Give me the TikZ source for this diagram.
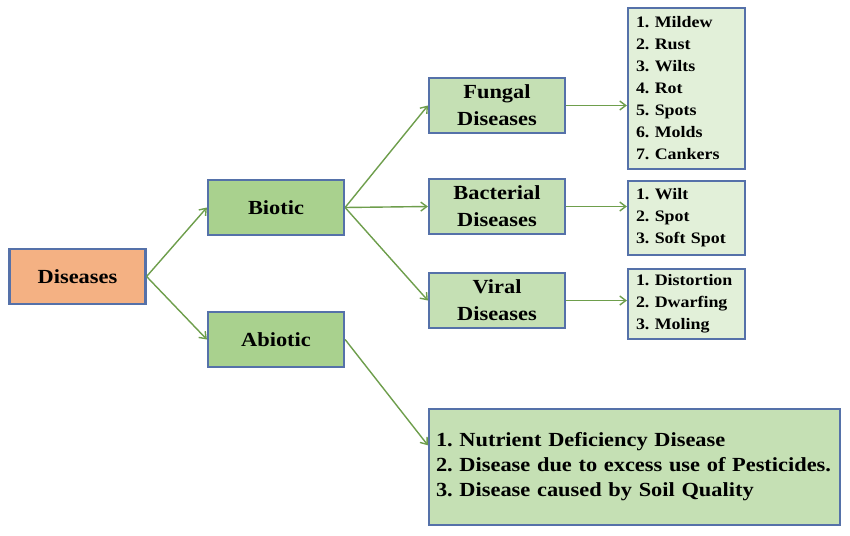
\documentclass[tikz,border=0pt]{standalone}
\usepackage{fontspec}
\setmainfont{Liberation Serif}[FakeStretch=1.12]
\usetikzlibrary{arrows.meta,shapes}
\definecolor{boxline}{HTML}{5571A9}
\definecolor{arrowgreen}{HTML}{6E9E4C}
\definecolor{orangefill}{HTML}{F4B183}
\definecolor{greenfill}{HTML}{A9D18E}
\definecolor{lightgreen}{HTML}{C5E0B4}
\definecolor{palegreen}{HTML}{E2F0D9}
\tikzstyle{block}=[rectangle,draw=boxline,line width=2.2pt,minimum width=136pt,minimum height=55pt,inner sep=0pt,align=center,font=\fontsize{20}{27}\selectfont\bfseries]
\tikzstyle{listbox}=[rectangle,draw=boxline,line width=2.2pt,minimum width=117pt,fill=palegreen,inner sep=0pt,text width=101pt,align=left,font=\fontsize{16}{22}\selectfont\bfseries]
\tikzstyle{edge} = [draw,arrowgreen,line width=1.4pt,-{Straight Barb[length=6pt,width=9pt]}]

\begin{document}
\frenchspacing
\begin{tikzpicture}[x=1pt,y=-1pt]

    \useasboundingbox[fill=white] (0,0) rectangle (850,535);

    % main boxes
    \foreach \pos/ \name / \label / \clr in {{(77.5,276.5)/dis/Diseases/orangefill},
        {(276,207.5)/bio/Biotic/greenfill},{(276,339.5)/abio/Abiotic/greenfill},
        {(497,105.5)/fung/{Fungal\\Diseases}/lightgreen},
        {(497,206.5)/bact/{Bacterial\\Diseases}/lightgreen},
        {(497,300.5)/vir/{Viral\\Diseases}/lightgreen}}
        \node[block,fill=\clr] (\name) at \pos {\label};

    % lists
    \node[listbox,minimum height=161pt] (fungl) at (686.5,88.5)
        {1. Mildew\\2. Rust\\3. Wilts\\4. Rot\\5. Spots\\6. Molds\\7. Cankers};
    \node[listbox,minimum height=74pt] (bactl) at (686.5,218)
        {1. Wilt\\2. Spot\\3. Soft Spot};
    \node[listbox,minimum height=70pt] (virl) at (686.5,304)
        {1. Distortion\\2. Dwarfing\\3. Moling};
    \node[listbox,fill=lightgreen,minimum width=411pt,minimum height=116pt,text width=397pt,
        font=\fontsize{20}{25}\selectfont\bfseries] (abiol) at (634.5,467)
        {1. Nutrient Deficiency Disease\\2. Disease due to excess use of Pesticides.\\3. Disease caused by Soil Quality};

    % Connect boxes with arrows
    \foreach \source/ \dest in {dis/bio,dis/abio,bio/fung,bio/bact,bio/vir}
        \draw[edge] (\source.east) -- (\dest.west);
    \foreach \source/ \dest in {fung/fungl,bact/bactl,vir/virl}
        \draw[edge] (\source.east) -- (\source.east -| \dest.west);
    \draw[edge] (abio.east) -- (abiol.174.5);

\end{tikzpicture}
\end{document}
